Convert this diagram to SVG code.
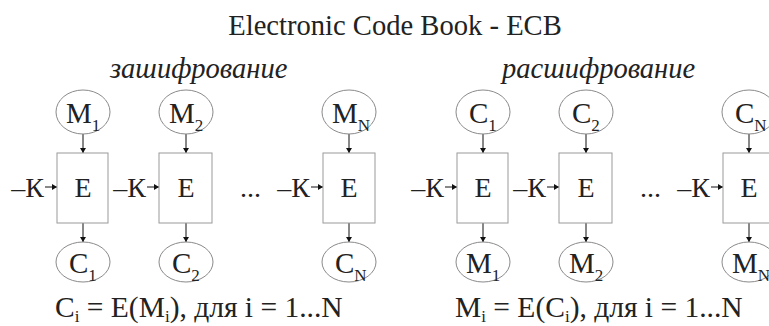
<svg xmlns="http://www.w3.org/2000/svg" width="769" height="326" viewBox="0 0 769 326">
<defs>
<style>
.t{font-family:"Liberation Serif","Times New Roman",serif;fill:#222;}
.big{font-size:28px;}
.lbl{font-size:29px;}
.it{font-style:italic;font-size:28.5px;}
.sub{font-size:17px;}
.ell{fill:none;stroke:#8a8a8a;stroke-width:1;}
.box{fill:#fff;stroke:#999;stroke-width:1;}
.arr{fill:none;stroke:#111;stroke-width:1;marker-end:url(#ah);}
</style>
<marker id="ah" markerUnits="userSpaceOnUse" markerWidth="6" markerHeight="6" refX="5" refY="3" orient="auto">
<path d="M0,0 L5,3 L0,6 Z" fill="#111"/>
</marker>
</defs>
<rect width="769" height="326" fill="#fff"/>
<text class="t" x="395" y="35" font-size="28.6" text-anchor="middle">Electronic Code Book - ECB</text>
<text class="t it" x="110" y="78">зашифрование</text>
<text class="t it" x="502" y="78">расшифрование</text>

<g id="connectors">
<line class="arr" x1="83" y1="134" x2="83" y2="153"/>
<line class="arr" x1="186" y1="134" x2="186" y2="153"/>
<line class="arr" x1="349" y1="134" x2="349" y2="153"/>
<line class="arr" x1="83" y1="223" x2="83" y2="242"/>
<line class="arr" x1="186" y1="223" x2="186" y2="242"/>
<line class="arr" x1="349" y1="223" x2="349" y2="242"/>
<line class="arr" x1="45" y1="187" x2="57" y2="187"/>
<line class="arr" x1="147" y1="187" x2="159" y2="187"/>
<line class="arr" x1="311" y1="187" x2="323" y2="187"/>
<line class="arr" x1="483" y1="134" x2="483" y2="153"/>
<line class="arr" x1="586" y1="134" x2="586" y2="153"/>
<line class="arr" x1="749" y1="134" x2="749" y2="153"/>
<line class="arr" x1="483" y1="223" x2="483" y2="242"/>
<line class="arr" x1="586" y1="223" x2="586" y2="242"/>
<line class="arr" x1="749" y1="223" x2="749" y2="242"/>
<line class="arr" x1="445" y1="187" x2="457" y2="187"/>
<line class="arr" x1="547" y1="187" x2="559" y2="187"/>
<line class="arr" x1="711" y1="187" x2="723" y2="187"/>
</g>

<g id="enc-m1"><ellipse class="ell" cx="83" cy="112" rx="27" ry="22"/><text class="t lbl" x="66" y="123">M<tspan class="sub" dy="8">1</tspan></text></g>
<g id="enc-m2"><ellipse class="ell" cx="186" cy="112" rx="27" ry="22"/><text class="t lbl" x="169" y="123">M<tspan class="sub" dy="8">2</tspan></text></g>
<g id="enc-mN"><ellipse class="ell" cx="349" cy="112" rx="27" ry="22"/><text class="t lbl" x="332" y="123">M<tspan class="sub" dy="8">N</tspan></text></g>
<g id="enc-e1"><rect class="box" x="57" y="153" width="51" height="70"/><text class="t big" x="83" y="197" text-anchor="middle">E</text></g>
<g id="enc-e2"><rect class="box" x="159" y="153" width="53" height="70"/><text class="t big" x="186" y="197" text-anchor="middle">E</text></g>
<g id="enc-eN"><rect class="box" x="323" y="153" width="52" height="70"/><text class="t big" x="349" y="197" text-anchor="middle">E</text></g>
<g id="enc-k1"><text class="t big" x="44" y="197" text-anchor="end">–К</text></g>
<g id="enc-k2"><text class="t big" x="146" y="197" text-anchor="end">–К</text></g>
<g id="enc-kN"><text class="t big" x="310" y="197" text-anchor="end">–К</text></g>
<text class="t big" x="240" y="197">...</text>
<g id="enc-c1"><ellipse class="ell" cx="83" cy="262" rx="27" ry="20"/><text class="t lbl" x="69" y="273">C<tspan class="sub" dy="8">1</tspan></text></g>
<g id="enc-c2"><ellipse class="ell" cx="186" cy="262" rx="27" ry="20"/><text class="t lbl" x="172" y="273">C<tspan class="sub" dy="8">2</tspan></text></g>
<g id="enc-cN"><ellipse class="ell" cx="349" cy="262" rx="27" ry="20"/><text class="t lbl" x="335" y="273">C<tspan class="sub" dy="8">N</tspan></text></g>
<text class="t" font-size="29.5" x="55" y="317">C<tspan class="sub" dy="5">i</tspan><tspan dy="-5"> = E(M</tspan><tspan class="sub" dy="5">i</tspan><tspan dy="-5">), для i = 1...N</tspan></text>

<g id="dec-c1"><ellipse class="ell" cx="483" cy="112" rx="27" ry="22"/><text class="t lbl" x="469" y="123">C<tspan class="sub" dy="8">1</tspan></text></g>
<g id="dec-c2"><ellipse class="ell" cx="586" cy="112" rx="27" ry="22"/><text class="t lbl" x="572" y="123">C<tspan class="sub" dy="8">2</tspan></text></g>
<g id="dec-cN"><ellipse class="ell" cx="749" cy="112" rx="27" ry="22"/><text class="t lbl" x="735" y="123">C<tspan class="sub" dy="8">N</tspan></text></g>
<g id="dec-e1"><rect class="box" x="457" y="153" width="51" height="70"/><text class="t big" x="483" y="197" text-anchor="middle">E</text></g>
<g id="dec-e2"><rect class="box" x="559" y="153" width="53" height="70"/><text class="t big" x="586" y="197" text-anchor="middle">E</text></g>
<g id="dec-eN"><rect class="box" x="723" y="153" width="52" height="70"/><text class="t big" x="749" y="197" text-anchor="middle">E</text></g>
<g id="dec-k1"><text class="t big" x="444" y="197" text-anchor="end">–К</text></g>
<g id="dec-k2"><text class="t big" x="546" y="197" text-anchor="end">–К</text></g>
<g id="dec-kN"><text class="t big" x="710" y="197" text-anchor="end">–К</text></g>
<text class="t big" x="640" y="197">...</text>
<g id="dec-m1"><ellipse class="ell" cx="483" cy="262" rx="27" ry="20"/><text class="t lbl" x="466" y="273">M<tspan class="sub" dy="8">1</tspan></text></g>
<g id="dec-m2"><ellipse class="ell" cx="586" cy="262" rx="27" ry="20"/><text class="t lbl" x="569" y="273">M<tspan class="sub" dy="8">2</tspan></text></g>
<g id="dec-mN"><ellipse class="ell" cx="749" cy="262" rx="27" ry="20"/><text class="t lbl" x="732" y="273">M<tspan class="sub" dy="8">N</tspan></text></g>
<text class="t" font-size="29.5" x="455" y="317">M<tspan class="sub" dy="5">i</tspan><tspan dy="-5"> = E(C</tspan><tspan class="sub" dy="5">i</tspan><tspan dy="-5">), для i = 1...N</tspan></text>
</svg>
